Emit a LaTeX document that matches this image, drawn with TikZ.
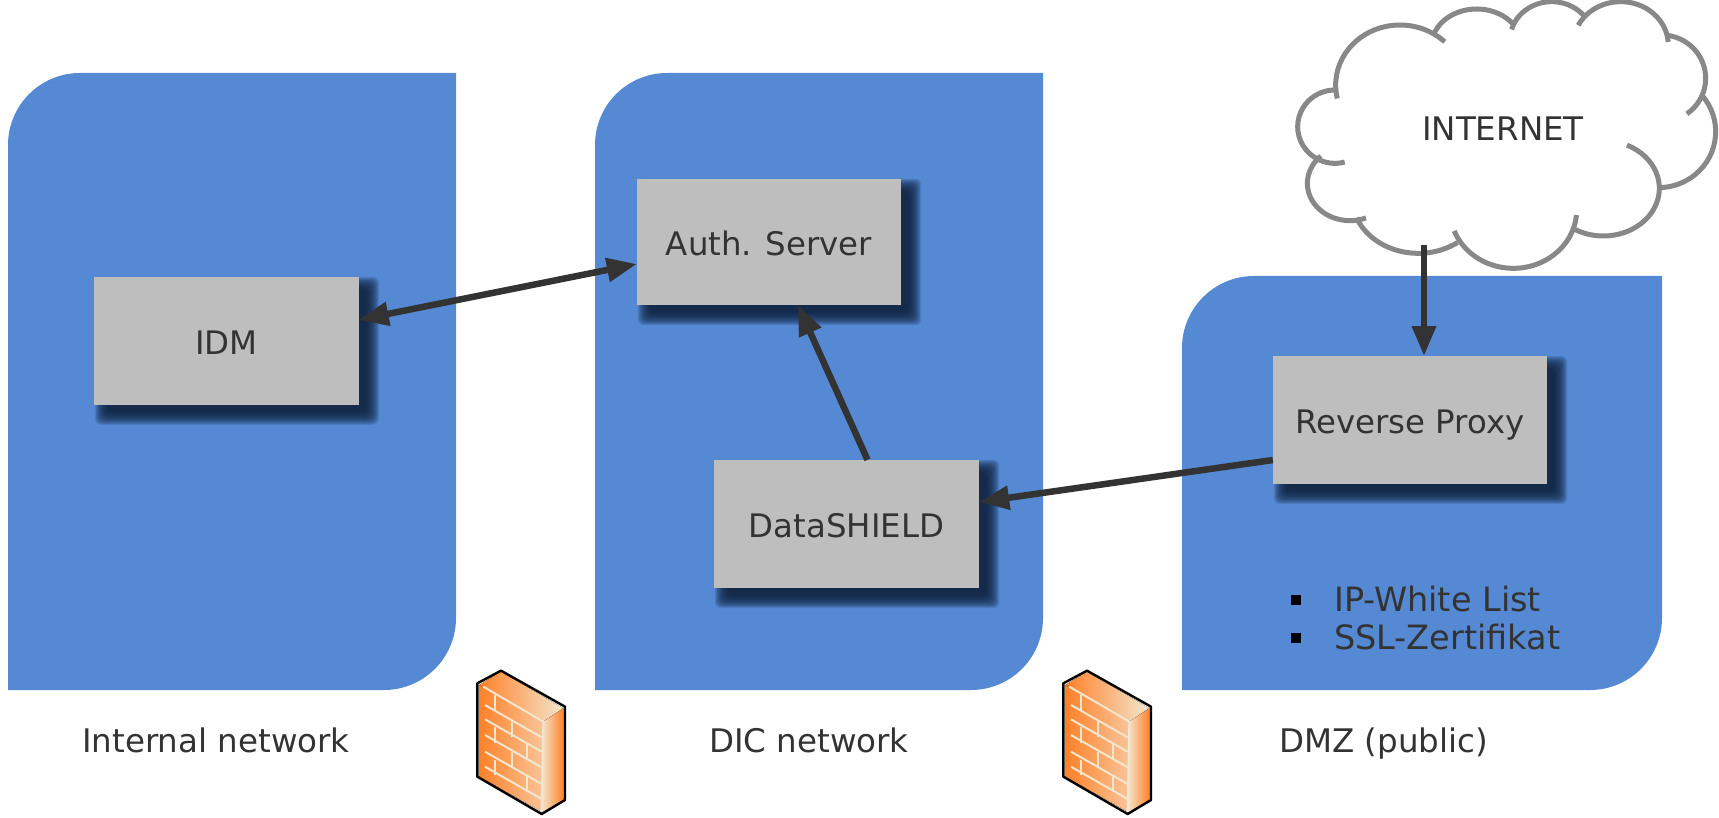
\documentclass[tikz,border=0pt]{standalone}
\usepackage{fontspec}
\setmainfont{DejaVu Sans}
\usetikzlibrary{arrows.meta}
\usetikzlibrary{calc}
\usetikzlibrary{backgrounds}
\definecolor{panelblue}{HTML}{5589D4}
\definecolor{boxgray}{HTML}{BEBEBE}
\definecolor{inkgray}{HTML}{333333}
\definecolor{cloudgray}{HTML}{888888}
\definecolor{shadownavy}{HTML}{10233F}
\definecolor{brickline}{HTML}{F3E6CE}
\definecolor{brickdeep}{HTML}{FF8128}
\definecolor{bricksoft}{HTML}{F8C59A}
\tikzset{
    panel/.style={fill=panelblue},
    serverbox/.style={fill=boxgray,inner sep=0pt,text=inkgray,font=\fontsize{32.4}{38}\selectfont,text height=27pt,text depth=0pt},
    caption/.style={text=inkgray,font=\fontsize{32.5}{38}\selectfont,inner sep=0pt,text height=24pt,text depth=0pt},
    listtext/.style={text=inkgray,font=\fontsize{33.5}{38}\selectfont,inner sep=0pt,anchor=base west},
    arrowline/.style={draw=inkgray,line width=6.5pt,-{Triangle[length=30pt,width=23pt]}},
    twoway/.style={draw=inkgray,line width=6.5pt,{Triangle[length=30pt,width=23pt]}-{Triangle[length=30pt,width=23pt]}},
    cloudline/.style={draw=cloudgray,line width=5pt},
    bulletbox/.style={fill=black,minimum size=10pt,inner sep=0pt},
    firewall/.pic={
        \fill[left color=brickdeep,right color=bricksoft] (118,135) -- (310,245) -- (305,515) -- (118,410) -- cycle;
        \fill[left color=brickdeep,right color=brickline] (183,95) -- (370,205) -- (310,245) -- (118,135) -- cycle;
        \fill[left color=brickline,right color=brickdeep] (310,245) -- (370,205) -- (370,480) -- (305,518) -- cycle;
        \draw[brickline,line width=2pt] (130,140) -- (310,245) -- (305,515);
        \foreach \ya in {195,238,285,335,380} {
            \draw[brickline,line width=2pt] (135,\ya) -- (305,\ya+97);
        }
        \draw[brickline,line width=2pt] (165,165) -- (165,212);
        \draw[brickline,line width=2pt] (215,240) -- (215,290);
        \draw[brickline,line width=2pt] (165,262) -- (165,308);
        \draw[brickline,line width=2pt] (260,312) -- (260,358);
        \draw[brickline,line width=2pt] (215,335) -- (215,382);
        \draw[brickline,line width=2pt] (165,360) -- (165,405);
        \draw[brickline,line width=2pt] (260,405) -- (260,452);
        \draw[black,line width=2.4pt,line join=round] (183,92) -- (112,130) -- (112,410) -- (305,522) -- (375,480) -- (375,200) -- cycle;
    }
}
\newcommand{\softshadow}[1]{
    \foreach \g in {-3,-2,...,10} {
        \fill[shadownavy,opacity=0.15,rounded corners=6pt] ($(#1.south west)+(11-\g,10+\g)$) rectangle ($(#1.north east)+(10+\g,10-\g)$);
    }
}

\begin{document}
\begin{tikzpicture}[x=1pt,y=-1pt]
            \useasboundingbox (0,0) rectangle (1719,818);

            \node[serverbox,minimum width=264.5pt,minimum height=127.5pt] (idm) at (226.3,340.8) {IDM};
            \node[serverbox,minimum width=264pt,minimum height=126pt] (auth) at (769,242) {Auth. Server};
            \node[serverbox,minimum width=265pt,minimum height=128pt] (datashield) at (846.5,524) {DataSHIELD};
            \node[serverbox,minimum width=274pt,minimum height=127.5pt] (proxy) at (1410,420) {Reverse Proxy};

            \begin{pgfonlayer}{background}
                \fill[panel] (8,690) [rounded corners=72pt] -- (8,73) [sharp corners] -- (456,73) [rounded corners=72pt] -- (456,690) [sharp corners] -- cycle;
                \fill[panel] (595,690) [rounded corners=72pt] -- (595,73) [sharp corners] -- (1043,73) [rounded corners=72pt] -- (1043,690) [sharp corners] -- cycle;
                \fill[panel] (1182,690) [rounded corners=72pt] -- (1182,276) [sharp corners] -- (1662,276) [rounded corners=72pt] -- (1662,690) [sharp corners] -- cycle;
                \softshadow{idm}
                \softshadow{auth}
                \softshadow{datashield}
                \softshadow{proxy}
            \end{pgfonlayer}

            \begin{scope}[shift={(1250,0)},scale=1/3]
                \foreach \cx/\cy/\rx/\ry/\aa/\ab in {450/255/193/180/167/314, 680/137/135/110/198/322, 905/120/125/115/196/323,
                        1112/135/143/130/207/356, 1235/235/132/130/277/415, 1225/395/172/168/-40/89,
                        1060/565/168/143/-65/120, 790/630/190/175/5/159, 505/590/200/170/54/158,
                        300/550/128/112/68/227, 255/380/112/110/75/268} {
                    \draw[cloudline] ({\cx+\rx*cos(\aa)},{\cy+\ry*sin(\aa)}) arc[start angle=\aa,end angle=\ab,x radius=\rx,y radius=\ry];
                }
            \end{scope}
            \node[caption] (internet) at (1503,129) {INTERNET};
            \coordinate (cloudout) at (1424,245);

            \draw[twoway] ($(idm.east)+(0,-21)$) -- ($(auth.west)+(0,22)$);
            \draw[arrowline] ($(datashield.north)+(21,0)$) -- ($(auth.south)+(29,0)$);
            \draw[arrowline] ($(proxy.west)+(0,40)$) -- ($(datashield.east)+(0,-22)$);
            \draw[arrowline] (cloudout) -- (cloudout |- proxy.north);

            \node[bulletbox] (bulletone) at (1296,600) {};
            \node[bulletbox] (bullettwo) at (1296,638) {};
            \node[listtext] (whitelist) at (1334,611) {IP-White List};
            \node[listtext] (sslcert) at (1334,649) {SSL-Zertifikat};

            \node[caption] (internal) at (216,740) {Internal network};
            \node[caption] (dic) at (809,740) {DIC network};
            \node[caption] (dmz) at (1383.5,740) {DMZ (public)};

            \pic[shift={(440,640)},scale=1/3] {firewall};
            \pic[shift={(1026,640)},scale=1/3] {firewall};
\end{tikzpicture}
\end{document}
